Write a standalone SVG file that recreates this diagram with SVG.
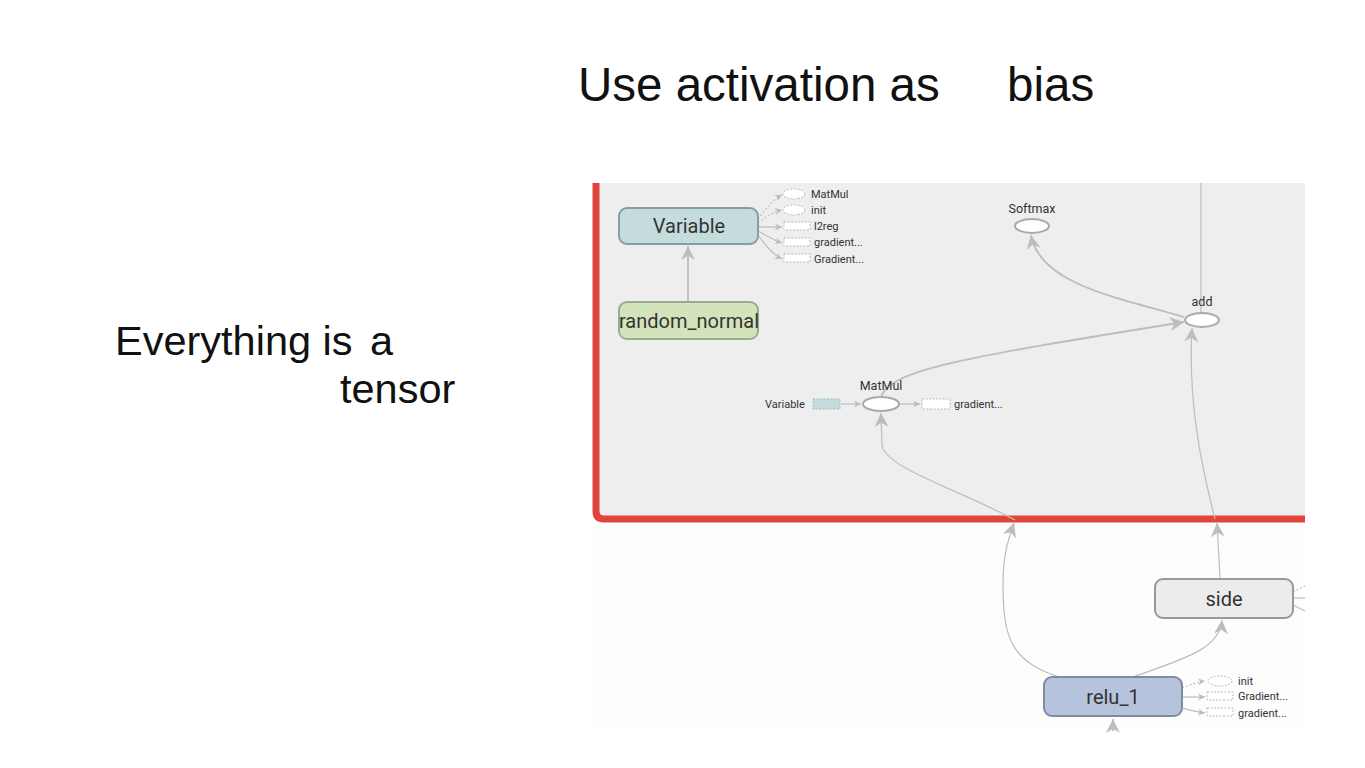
<svg xmlns="http://www.w3.org/2000/svg" width="1365" height="768" viewBox="0 0 1365 768">
<style>
.title{font-family:"Liberation Sans",Arial,sans-serif;fill:#111;}
.nl{font-family:Roboto,"Liberation Sans",sans-serif;fill:#333;font-size:20px;text-anchor:middle;}
.sl{font-family:Roboto,"Liberation Sans",sans-serif;fill:#333;font-size:11px;}
.ol{font-family:Roboto,"Liberation Sans",sans-serif;fill:#333;font-size:12.5px;text-anchor:middle;}
.edge{fill:none;stroke:#bdbdbd;stroke-width:1.8;}
.thin{fill:none;stroke:#bdbdbd;stroke-width:1.2;}
.dash{fill:none;stroke:#bdbdbd;stroke-width:1.1;stroke-dasharray:2 2;}
.op{fill:#fff;stroke:#aaa;stroke-width:2;}
.aux{fill:#fff;stroke:#bbb;stroke-width:1;stroke-dasharray:2 1.5;}
</style>
<defs>
<marker id="ah" viewBox="0 0 10 10" refX="10" refY="5" markerUnits="userSpaceOnUse" markerWidth="14" markerHeight="14" orient="auto">
<path d="M0,0 L10,5 L0,10 L3,5 Z" fill="#bdbdbd"/>
</marker>
<marker id="as" viewBox="0 0 10 10" refX="10" refY="5" markerUnits="userSpaceOnUse" markerWidth="7" markerHeight="7" orient="auto">
<path d="M0,0 L10,5 L0,10 L3,5 Z" fill="#bdbdbd"/>
</marker>
</defs>
<rect width="1365" height="768" fill="#fff"/>
<text class="title" x="578" y="101" font-size="47.5">Use activation as</text>
<text class="title" x="1007" y="101" font-size="47.5">bias</text>
<text class="title" x="115" y="355" font-size="41.5">Everything is</text>
<text class="title" x="370" y="355" font-size="41.5">a</text>
<text class="title" x="340" y="403" font-size="41.5">tensor</text>
<g id="panel">
<rect x="590" y="525" width="715" height="205" fill="#fdfdfd"/>
<path d="M596,183 L1305,183 L1305,519 L604,519 Q596,519 596,511 Z" fill="#eeeeee"/>
<path d="M596,183 L596,511 Q596,519 604,519 L1305,519" fill="none" stroke="#e0443a" stroke-width="7"/>
</g>
<g id="connectors">
<path class="edge" d="M688,302 L688,246" marker-end="url(#ah)"/>
<path class="dash" d="M758,219 C765,210 772,200 782,195" marker-end="url(#as)"/>
<path class="dash" d="M758,223 C766,217 773,212 782,210" marker-end="url(#as)"/>
<path class="thin" d="M758,227 L782,227" marker-end="url(#as)"/>
<path class="thin" d="M758,231 C766,235 773,240 782,243" marker-end="url(#as)"/>
<path class="thin" d="M758,235 C765,245 772,254 782,259" marker-end="url(#as)"/>
<path class="edge" d="M1184,317 C1120,298 1040,285 1031,235" marker-end="url(#ah)"/>
<path class="edge" d="M881,397 C890,370 960,358 1184,322" marker-end="url(#ah)"/>
<path class="thin" d="M1015,520 C960,490 885,468 882,445 L881,413" marker-end="url(#ah)"/>
<path class="thin" d="M1215,519 C1200,460 1188,400 1192,328" marker-end="url(#ah)"/>
<path class="thin" d="M1201,183 L1201,313"/>
<path class="thin" d="M841,404 L861,404" marker-end="url(#as)"/>
<path class="thin" d="M900,404 L920,404" marker-end="url(#as)"/>
<path class="thin" d="M1062,678 C1012,662 1003,640 1003,585 C1003,555 1008,540 1014,523" marker-end="url(#ah)"/>
<path class="thin" d="M1220,578 L1217,523" marker-end="url(#ah)"/>
<path class="thin" d="M1130,678 C1180,660 1220,650 1222,620" marker-end="url(#ah)"/>
<path class="edge" d="M1113,731 L1113,719" marker-end="url(#ah)"/>
<path class="dash" d="M1182,688 C1190,685 1196,682 1205,681" marker-end="url(#as)"/>
<path class="thin" d="M1182,697 L1205,697" marker-end="url(#as)"/>
<path class="thin" d="M1182,708 C1190,710 1196,712 1205,713" marker-end="url(#as)"/>
<path class="dash" d="M1293,592 L1305,586"/>
<path class="thin" d="M1293,598 L1305,598"/>
<path class="thin" d="M1293,605 L1305,611"/>
</g>
<g id="Variable">
<rect x="619" y="208" width="139" height="36" rx="8" fill="#c5dcdd" stroke="#8a9d9e" stroke-width="2"/>
<text class="nl" x="689" y="233">Variable</text>
</g>
<g id="random_normal">
<rect x="619" y="302" width="139" height="37" rx="8" fill="#d3e4bd" stroke="#9cab8e" stroke-width="2"/>
<text class="nl" x="689" y="328">random_normal</text>
</g>
<g id="Variable_outputs">
<ellipse class="aux" cx="794" cy="194" rx="11" ry="5"/>
<text class="sl" x="811" y="198">MatMul</text>
<ellipse class="aux" cx="794" cy="210" rx="11" ry="5"/>
<text class="sl" x="811" y="214">init</text>
<rect class="aux" x="784" y="222" width="26" height="8" fill="#eee"/>
<text class="sl" x="814" y="230">l2reg</text>
<rect class="aux" x="784" y="238" width="26" height="8" fill="#eee"/>
<text class="sl" x="814" y="246">gradient...</text>
<rect class="aux" x="784" y="254" width="26" height="8" fill="#eee"/>
<text class="sl" x="814" y="263">Gradient...</text>
</g>
<g id="Softmax">
<text class="ol" x="1032" y="213">Softmax</text>
<ellipse class="op" cx="1032" cy="226" rx="17" ry="7"/>
</g>
<g id="add">
<text class="ol" x="1202" y="306">add</text>
<ellipse class="op" cx="1202" cy="320" rx="17" ry="7"/>
</g>
<g id="MatMul">
<text class="ol" x="881" y="390">MatMul</text>
<ellipse class="op" cx="881" cy="404" rx="18" ry="7"/>
<text class="sl" x="765" y="408">Variable</text>
<rect x="813" y="399" width="27" height="10" fill="#c5dcdd" stroke="#9bb" stroke-width="1" stroke-dasharray="2 1.5"/>
<rect class="aux" x="922" y="399" width="28" height="10" fill="#eee"/>
<text class="sl" x="954" y="408">gradient...</text>
</g>
<g id="side">
<rect x="1155" y="579" width="138" height="39" rx="8" fill="#ececec" stroke="#999" stroke-width="2"/>
<text class="nl" x="1224" y="606">side</text>
</g>
<g id="relu_1">
<rect x="1044" y="677" width="138" height="39" rx="8" fill="#b6c3dc" stroke="#7f8ba3" stroke-width="2"/>
<text class="nl" x="1113" y="704">relu_1</text>
</g>
<g id="relu_1_outputs">
<ellipse class="aux" cx="1220" cy="681" rx="12" ry="5"/>
<text class="sl" x="1238" y="685">init</text>
<rect class="aux" x="1207" y="692" width="26" height="8" fill="#eee"/>
<text class="sl" x="1238" y="700">Gradient...</text>
<rect class="aux" x="1207" y="708" width="26" height="8" fill="#eee"/>
<text class="sl" x="1238" y="717">gradient...</text>
</g>
</svg>
